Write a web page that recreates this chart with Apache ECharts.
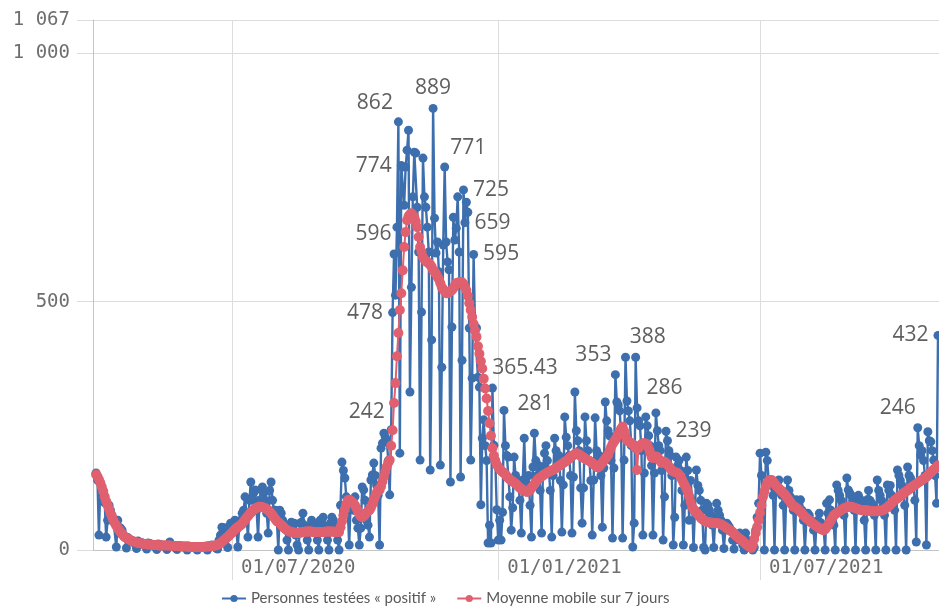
<!DOCTYPE html>
<html>
<head>
<meta charset="utf-8">
<script src="https://cdn.jsdelivr.net/npm/echarts@6/dist/echarts.min.js"></script>
<style>
html,body{margin:0;padding:0;background:#fff;}
#chart{width:939px;height:614px;}
</style>
</head>
<body>
<div id="chart"></div>
<script>
// ---------- DATA ----------
const startDate = '2020-03-29';           // first daily value
const seriesNames = ['Personnes testées « positif »', 'Moyenne mobile sur 7 jours'];
const xTickDates = ['2020-07-01', '2021-01-01', '2021-07-01'];
const yTickValues = [0, 500, 1000, 1067];

// Daily "positif" counts (one row per week, Sunday first)
const positifs = [
155,141,30,135,121,110,95,
26,60,90,80,70,60,60,
6,60,46,44,40,30,25,
4,25,22,20,18,16,12,
3,18,16,15,14,12,8,
2,14,13,12,11,10,6,
1,12,11,10,9,8,5,
1,10,16,9,8,7,4,
1,9,8,8,7,7,4,
0,8,7,7,6,6,3,
0,7,6,6,5,5,3,
0,8,9,10,8,9,4,
2,20,30,46,40,45,30,
5,46,54,50,55,60,40,
6,50,60,74,80,107,70,
26,100,137,100,115,121,80,
26,100,121,127,115,100,74,
34,120,137,100,80,80,60,
0,80,74,60,50,46,20,
0,40,56,46,54,30,10,
0,54,56,74,50,40,20,
0,50,60,48,45,50,20,
0,60,55,66,45,40,20,
0,54,66,60,50,40,20,
0,90,177,160,145,107,80,
10,94,100,80,107,60,44,
10,44,127,121,100,60,50,
26,141,151,175,150,130,110,
10,205,215,235,227,221,180,
111,242,478,596,513,650,862,
195,774,771,694,771,805,845,
318,529,711,801,799,690,600,
181,479,789,711,690,650,600,
161,423,889,668,598,620,560,
171,368,614,771,620,580,564,
137,449,670,624,648,711,600,
147,382,725,659,700,680,447,
181,346,595,449,447,348,328,
91,225,262,210,180,14,50,
14,326,211,180,81,20,60,
20,76,281,210,190,187,107,
40,85,187,150,140,130,100,
34,141,225,130,120,150,90,
26,167,235,180,150,170,120,
34,167,195,210,180,160,120,
26,150,225,200,180,190,140,
36,131,268,227,210,190,150,
34,147,318,240,220,200,125,
54,125,268,220,200,180,140,
30,141,266,200,180,190,150,
46,165,298,260,240,230,180,
24,165,353,298,292,280,230,
24,181,388,300,280,260,210,
6,54,388,286,260,250,200,
30,155,268,250,230,210,170,
30,155,276,240,210,200,160,
20,107,239,220,200,190,150,
10,66,187,170,180,160,120,
10,90,187,160,60,140,100,
5,80,161,130,120,100,80,
5,0,94,90,80,70,50,
5,60,94,80,70,60,40,
3,40,54,50,45,40,20,
2,20,30,25,34,20,10,
0,34,20,10,5,5,0,
5,40,66,94,195,150,110,
0,197,180,137,131,135,110,
0,120,137,141,120,110,90,
0,100,141,120,107,101,80,
0,101,95,90,101,80,60,
0,60,74,70,60,55,40,
0,50,60,74,55,50,40,
0,94,74,101,80,70,50,
0,131,120,110,100,90,70,
0,145,121,115,110,100,80,
0,101,110,95,100,90,60,
0,101,120,100,95,90,70,
0,141,120,110,100,90,70,
0,131,120,130,110,100,80,
0,161,150,140,130,120,90,
0,167,150,145,137,130,100,
16,246,210,191,200,180,150,
10,238,220,218,200,181,150,
94,432
];

// 7-day moving average (same days)
const moyenne = [
152,148,142,135,127,118,107,
98,90,82,74,67,60,54,
49,44,40,36,32,29,26,
24,22,21,19,18,17,16,
15,14,14,13,13,12,12,
11,11,11,10,10,10,10,
10,9,9,9,9,9,9,
9,9,9,8,8,8,8,
8,8,7,7,7,7,7,
7,6,6,6,6,6,6,
6,6,6,6,6,6,7,
7,7,8,8,8,9,9,
10,12,14,16,19,21,24,
26,29,32,35,38,41,44,
46,48,50,53,57,61,65,
68,72,75,78,81,83,85,
86,87,87,86,85,84,82,
80,77,74,70,66,62,58,
56,54,51,48,45,42,40,
38,37,36,35,35,34,34,
34,35,35,36,36,37,37,
37,37,37,36,36,36,36,
36,36,36,36,36,37,37,
37,37,37,37,36,36,36,
36,46,58,70,82,92,100,
101,99,97,94,90,84,78,
72,68,66,68,71,75,78,
80,85,92,100,108,115,121,
121,128,138,148,158,168,176,
181,210,241,296,336,390,437,
483,517,563,610,640,664,672,
676,678,674,670,662,650,630,
610,600,590,585,582,579,578,
574,570,563,560,556,550,545,
537,529,525,521,517,517,519,
521,523,527,532,537,538,539,
539,539,535,529,523,512,497,
483,469,455,442,429,410,395,
380,365.43,345,325,305,280,255,
230,205,190,180,172,167,163,
160,157,155,152,148,145,142,
140,138,136,134,131,128,125,
123,121,119,118,117,118,121,
125,129,133,137,141,144,146,
148,150,152,154,156,157,159,
160,161,163,165,167,169,171,
173,175,177,179,181,184,187,
189,191,193,195,194,192,190,
188,186,184,182,181,179,177,
175,172,170,167,166,168,172,
176,180,184,187,192,200,207,
213,218,222,227,233,239,244,
248,240,230,221,219,217,215,
213,210,205,161,205,210,213,
215,215,214,213,205,196,187,
185,187,188,187,183,179,175,
178,177,175,172,168,164,160,
158,157,156,155,152,148,142,
136,130,124,117,108,97,87,
82,78,75,72,68,65,62,
60,58,57,56,56,55,55,
54,54,54,54,53,52,50,
48,46,44,42,40,38,36,
33,30,27,25,22,20,18,
15,12,10,8,6,4,10,
22,34,46,60,75,90,107,
118,128,135,139,141,141,138,
134,130,127,124,121,118,115,
112,108,104,100,96,92,87,
87,85,83,80,77,74,70,
67,64,62,60,57,54,52,
50,48,46,44,42,41,40,
42,46,50,55,60,65,70,
72,74,76,78,80,82,84,
85,86,87,87,87,86,85,
84,83,82,81,80,80,80,
80,80,79,79,78,78,78,
78,78,79,79,79,80,82,
84,86,88,91,94,97,100,
102,104,107,109,111,114,116,
118,120,122,125,127,129,131,
133,135,137,139,141,143,145,
147,150,153,156,159,162,164,
167,170
];

// ---------- BUILD ----------
const DAY = 86400000;
function parseUTC(s){ const p = s.split('-').map(Number); return Date.UTC(p[0], p[1]-1, p[2]); }
const t0 = parseUTC(startDate);
const dayTime = i => t0 + i * DAY;

// label layout (which points carry a value label)
const labelCfg = {
  positif: {
    204: {position:'left', offset:[3,-18]},
    205: {position:'left', offset:[0,0]},
    206: {position:'left', offset:[7,-20]},
    209: {position:'left', offset:[4,-19]},
    211: {position:'left', offset:[0,0]},
    233: {position:'top', offset:[0,0]},
    241: {position:'right', offset:[-4,-19]},
    254: {position:'right', offset:[0,0]},
    255: {position:'right', offset:[0,0]},
    261: {position:'right', offset:[0,0]},
    282: {position:'right', offset:[4,-6]},
    359: {position:'top', offset:[-22,0]},
    373: {position:'top', offset:[12,0]},
    374: {position:'right', offset:[0,-20]},
    394: {position:'right', offset:[0,0]},
    568: {position:'top', offset:[-20,0]},
    582: {position:'left', offset:[0,0]}
  },
  moyenne: {
    267: {position:'right', offset:[0,0]}
  }
};
const labelText = {fontFamily:'Open Sans', fontSize:21, color:'#5f5f5f'};

function build(values, cfg){
  return values.map((v, i) => {
    const item = {value:[dayTime(i), v]};
    if (cfg[i]) {
      item.label = Object.assign({show:true, formatter: String(v), distance:5}, labelText, cfg[i]);
    }
    return item;
  });
}

const BLUE = '#3d6fae';
const PINK = '#e0606f';
const GRID = '#dcdcdc';
const TXT = '#6e6e6e';

const base = parseUTC('2020-07-01');
const xMin = base - 96.1 * DAY;
const xMax = base + 488.7 * DAY;
const xTicks = xTickDates.map(parseUTC);

function fmtDate(v){
  const d = new Date(v);
  const p = n => String(n).padStart(2,'0');
  return p(d.getUTCDate()) + '/' + p(d.getUTCMonth()+1) + '/' + d.getUTCFullYear();
}
function fmtNum(v){
  return String(Math.round(v)).replace(/\B(?=(\d{3})+$)/g, ' ');
}

const chart = echarts.init(document.getElementById('chart'), null, {renderer:'canvas'});
chart.setOption({
  animation: false,
  backgroundColor: '#ffffff',
  grid: {left:93, right:0, top:20, bottom:64, containLabel:false},
  legend: {
    left: 216, top: 586, itemGap: 20, itemWidth: 24, itemHeight: 9,
    textStyle: {fontFamily:'Lato', fontSize:15, color:'#595959'},
    data: seriesNames
  },
  xAxis: {
    type: 'value', min: xMin, max: xMax, scale: true,
    axisLine: {show:true, onZero:false, lineStyle:{color:'#c4c4c4', width:1}},
    axisTick: {show:true, length:30, customValues: xTicks, lineStyle:{color:GRID}},
    axisLabel: {
      customValues: xTicks, formatter: fmtDate, align:'left', padding:[0,0,0,9],
      margin: 9, fontFamily:'DejaVu Sans Mono', fontSize:19, color:TXT
    },
    splitLine: {show:true, lineStyle:{color:GRID, width:1}}
  },
  yAxis: {
    type: 'value', min: 0, max: 1067,
    axisLine: {show:true, lineStyle:{color:'#c4c4c4', width:1}},
    axisTick: {show:true, length:16, customValues: yTickValues, lineStyle:{color:GRID}},
    axisLabel: {
      customValues: yTickValues, formatter: fmtNum, margin: 23,
      fontFamily:'DejaVu Sans Mono', fontSize:19, color:TXT
    },
    splitLine: {show:true, lineStyle:{color:GRID, width:1}}
  },
  series: [
    {
      name: seriesNames[0], type:'line', data: build(positifs, labelCfg.positif),
      symbol:'circle', symbolSize:9, showAllSymbol:true,
      lineStyle:{color:BLUE, width:2.4}, itemStyle:{color:BLUE},
      emphasis:{disabled:true}, z:2
    },
    {
      name: seriesNames[1], type:'line', data: build(moyenne, labelCfg.moyenne),
      symbol:'circle', symbolSize:10, showAllSymbol:true,
      lineStyle:{color:PINK, width:2}, itemStyle:{color:PINK},
      emphasis:{disabled:true}, z:3
    }
  ]
});
</script>
</body>
</html>
